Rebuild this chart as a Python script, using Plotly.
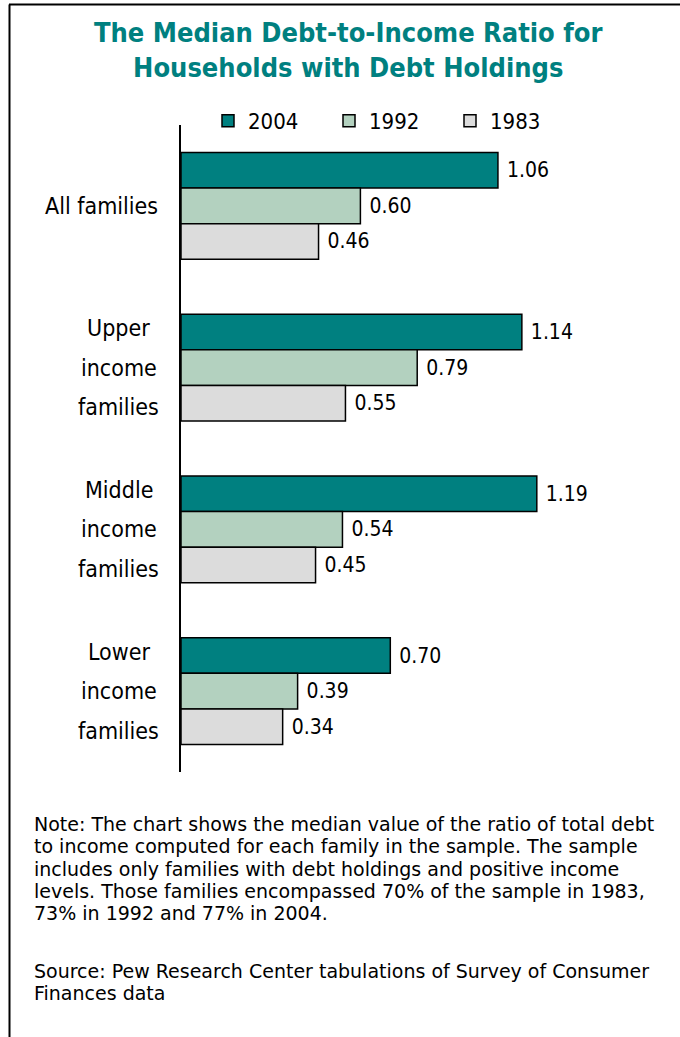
import plotly.graph_objects as go

# Data
categories = ["All families", "Upper income families", "Middle income families", "Lower income families"]
category_lines = [
    ["All families"],
    ["Upper", "income", "families"],
    ["Middle", "income", "families"],
    ["Lower", "income", "families"],
]
years = ["2004", "1992", "1983"]
ratio_2004 = [1.06, 1.14, 1.19, 0.70]
ratio_1992 = [0.60, 0.79, 0.54, 0.39]
ratio_1983 = [0.46, 0.55, 0.45, 0.34]

title_text = "The Median Debt-to-Income Ratio for<br>Households with Debt Holdings"
note_lines = [
    "Note: The chart shows the median value of the ratio of total debt",
    "to income computed for each family in the sample. The sample",
    "includes only families with debt holdings and positive income",
    "levels. Those families encompassed 70% of the sample in 1983,",
    "73% in 1992 and 77% in 2004.",
]
source_lines = [
    "Source: Pew Research Center tabulations of Survey of Consumer",
    "Finances data",
]

# Styling
W, H = 680, 1037
FONT = "DejaVu Sans Condensed, Liberation Sans Narrow, DejaVu Sans, sans-serif"
NOTE_FONT = "DejaVu Sans, Verdana, sans-serif"
TEAL = "#008080"
bar_colors = {"2004": "#008080", "1992": "#B3D1BF", "1983": "#DCDCDC"}
series = {"2004": ratio_2004, "1992": ratio_1992, "1983": ratio_1983}


def px_x(px):
    return px / W


def px_y(py):
    return 1 - py / H


fig = go.Figure()
for yr in years:
    fig.add_trace(go.Bar(
        name=yr,
        y=categories,
        x=series[yr],
        orientation="h",
        marker=dict(color=bar_colors[yr], line=dict(color="black", width=1.5)),
        text=series[yr],
        texttemplate=" %{x:.2f}",
        textposition="outside",
        textfont=dict(family=FONT, size=21, color="black"),
        cliponaxis=False,
    ))

annotations = []

# Title
annotations.append(dict(
    text="<b>" + title_text + "</b>",
    xref="paper", yref="paper", x=px_x(349), y=px_y(50),
    xanchor="center", yanchor="middle", showarrow=False,
    font=dict(family=FONT, size=27, color=TEAL), align="center",
))

# Category labels, one line per bar row
line_step = 39.5
for cat, lines in zip(categories, category_lines):
    n = len(lines)
    for j, ln in enumerate(lines):
        annotations.append(dict(
            text=ln, xref="paper", yref="y", y=cat,
            x=px_x(160) if n == 1 else px_x(119),
            xanchor="right" if n == 1 else "center",
            yanchor="middle",
            yshift=-(j - (n - 1) / 2) * line_step,
            showarrow=False,
            font=dict(family=FONT, size=23, color="black"),
        ))

# Note and source text
note_step = 22.3
for i, ln in enumerate(note_lines):
    annotations.append(dict(
        text=ln, xref="paper", yref="paper", x=px_x(32), y=px_y(824 + note_step * i),
        xanchor="left", yanchor="middle", showarrow=False,
        font=dict(family=NOTE_FONT, size=19, color="black"),
    ))
for i, ln in enumerate(source_lines):
    annotations.append(dict(
        text=ln, xref="paper", yref="paper", x=px_x(32), y=px_y(971 + note_step * i),
        xanchor="left", yanchor="middle", showarrow=False,
        font=dict(family=NOTE_FONT, size=19, color="black"),
    ))

# Frame lines: top and left edges
shapes = [
    dict(type="line", xref="paper", yref="paper", x0=px_x(9), x1=1,
         y0=px_y(4.5), y1=px_y(4.5), line=dict(color="black", width=2)),
    dict(type="line", xref="paper", yref="paper", x0=px_x(9.5), x1=px_x(9.5),
         y0=0, y1=px_y(4.5), line=dict(color="black", width=2)),
]

unit_px = 299
x_max = 1.5
fig.update_layout(
    width=W, height=H,
    margin=dict(l=0, r=0, t=0, b=0),
    paper_bgcolor="white", plot_bgcolor="white",
    barmode="group", bargap=0.34, bargroupgap=0,
    showlegend=True,
    legend=dict(
        orientation="h", x=px_x(208), y=px_y(121),
        xanchor="left", yanchor="middle",
        font=dict(family=FONT, size=22, color="black"),
        traceorder="normal", itemwidth=30, entrywidth=76,
        bgcolor="rgba(0,0,0,0)",
    ),
    xaxis=dict(
        domain=[px_x(181), px_x(181 + unit_px * x_max)],
        range=[0, x_max], showgrid=False, zeroline=False,
        showticklabels=False, showline=False, ticks="",
    ),
    yaxis=dict(
        domain=[px_y(772), px_y(125)],
        autorange="reversed", showgrid=False, zeroline=False,
        showticklabels=False, ticks="",
        showline=True, linecolor="black", linewidth=1.5,
    ),
    annotations=annotations,
    shapes=shapes,
)

fig.write_html("out.html")
